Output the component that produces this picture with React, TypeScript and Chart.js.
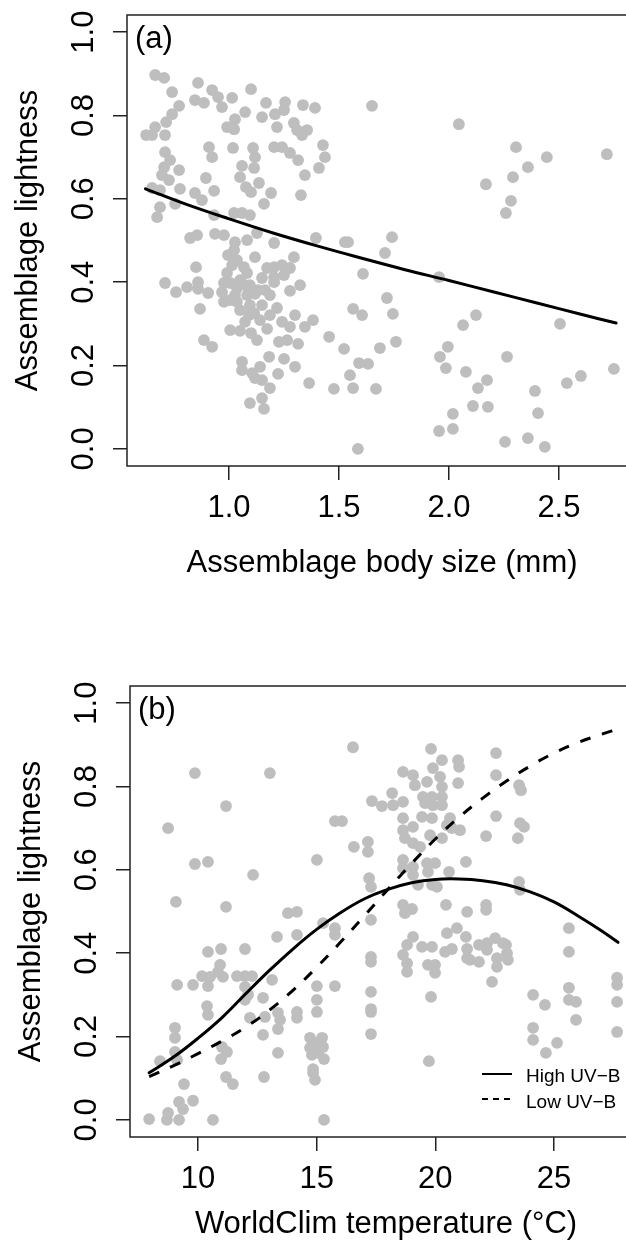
import React, { useEffect, useRef } from "react";
import { Chart, registerables } from "chart.js";

Chart.register(...registerables);

const FONT = '"Liberation Sans", Arial, Helvetica, sans-serif';
const POINT_COLOR = "#bebebe";

// ---------- Panel (a): body size vs lightness ----------
const bodySize = [
  0.664, 0.705, 0.741, 0.859, 0.923, 0.95, 0.968, 1.014, 0.845, 0.886, 1.1, 1.168, 1.255, 1.336, 1.391, 0.773,
  0.741, 0.714, 1.073, 1.027, 0.991, 1.023, 1.15, 1.209, 1.25, 1.218, 1.295, 1.309, 1.355, 1.332, 0.664, 0.623,
  0.65, 0.709, 0.909, 0.923, 1.018, 1.109, 1.118, 1.205, 1.241, 1.277, 1.314, 1.427, 1.436, 1.409, 1.345, 1.327,
  0.709, 0.732, 0.705, 0.773, 0.695, 0.727, 1.059, 1.114, 1.05, 1.077, 1.136, 1.1, 0.895, 1.191, 1.159, 0.65,
  0.686, 0.777, 0.845, 0.932, 0.877, 0.686, 0.755, 0.673, 0.932, 1.023, 1.059, 1.095, 0.823, 0.855, 0.936, 0.977,
  1.027, 1.082, 1.127, 1.205, 1.395, 1.527, 1.023, 1.118, 1.295, 1.036, 1.068, 0.85, 0.991, 1.082, 1.173, 1.205,
  1.241, 1.277, 1.205, 1.25, 1.15, 0.709, 0.759, 0.809, 0.859, 0.859, 0.905, 0.977, 0.968, 1.005, 1.036, 1.205,
  1.323, 1.277, 0.977, 1.005, 1.036, 1.082, 1.118, 0.868, 1.095, 1.15, 1.114, 1.091, 1.218, 1.186, 1.3, 1.241,
  1.277, 1.382, 1.345, 1.005, 1.05, 1.1, 1.127, 1.173, 1.227, 1.264, 1.314, 1.455, 1.523, 0.886, 0.923, 1.182,
  1.25, 1.3, 1.059, 1.059, 1.105, 1.141, 1.118, 1.15, 1.186, 1.223, 1.364, 1.477, 1.095, 1.15, 1.159, 0.995,
  1.014, 1.05, 1.073, 1.027, 1.095, 1.132, 1.164, 1.186, 1.05, 1.141, 1.073, 1.65, 2.045, 2.305, 2.445, 2.718,
  2.359, 2.291, 2.168, 2.282, 2.259, 1.541, 1.741, 1.709, 1.609, 1.955, 1.718, 1.564, 1.605, 1.745, 2.123, 2.064,
  2.505, 1.686, 1.759, 1.55, 1.564, 1.591, 1.632, 1.668, 1.959, 1.995, 1.986, 2.077, 2.132, 2.173, 2.264, 2.109,
  2.177, 2.018, 1.955, 2.018, 1.586, 2.255, 2.359, 2.391, 2.405, 2.436, 2.536, 2.6, 2.75,
];
const lightnessA = [
  0.897, 0.89, 0.856, 0.878, 0.861, 0.844, 0.82, 0.842, 0.837, 0.83, 0.863, 0.83, 0.832, 0.825, 0.818, 0.823,
  0.803, 0.784, 0.808, 0.791, 0.772, 0.767, 0.796, 0.803, 0.813, 0.772, 0.782, 0.765, 0.765, 0.753, 0.772, 0.753,
  0.753, 0.753, 0.724, 0.7, 0.722, 0.722, 0.7, 0.724, 0.724, 0.71, 0.693, 0.729, 0.7, 0.674, 0.657, 0.609,
  0.712, 0.693, 0.676, 0.669, 0.657, 0.645, 0.679, 0.674, 0.652, 0.628, 0.638, 0.616, 0.65, 0.614, 0.588, 0.626,
  0.621, 0.624, 0.614, 0.619, 0.597, 0.58, 0.588, 0.556, 0.561, 0.566, 0.566, 0.561, 0.506, 0.513, 0.516, 0.513,
  0.496, 0.501, 0.518, 0.494, 0.506, 0.496, 0.477, 0.46, 0.46, 0.453, 0.436, 0.436, 0.422, 0.422, 0.434, 0.436,
  0.441, 0.434, 0.412, 0.417, 0.41, 0.398, 0.376, 0.388, 0.4, 0.384, 0.374, 0.398, 0.376, 0.398, 0.386, 0.4,
  0.393, 0.379, 0.353, 0.357, 0.353, 0.369, 0.372, 0.336, 0.345, 0.345, 0.326, 0.321, 0.338, 0.321, 0.321, 0.305,
  0.293, 0.309, 0.293, 0.285, 0.283, 0.278, 0.261, 0.288, 0.257, 0.261, 0.252, 0.269, 0.24, 0.261, 0.245, 0.221,
  0.216, 0.197, 0.209, 0.189, 0.182, 0.197, 0.17, 0.165, 0.146, 0.18, 0.158, 0.144, 0.11, 0.122, 0.096, 0.465,
  0.441, 0.405, 0.393, 0.369, 0.393, 0.381, 0.381, 0.369, 0.333, 0.309, 0.305, 0.823, 0.779, 0.724, 0.7, 0.707,
  0.676, 0.652, 0.635, 0.595, 0.566, 0.496, 0.508, 0.47, 0.42, 0.412, 0.362, 0.336, 0.321, 0.324, 0.321, 0.297,
  0.3, 0.242, 0.257, 0.177, 0.146, 0.206, 0.204, 0.144, 0.221, 0.245, 0.194, 0.185, 0.146, 0.165, 0.221, 0.103,
  0.101, 0.084, 0.043, 0.048, 0.0, 0.017, 0.026, 0.139, 0.086, 0.005, 0.158, 0.175, 0.192,
];
const fitSizeX = [0.62, 0.8, 1.0, 1.2, 1.4, 1.6, 1.8, 2.0, 2.2, 2.4, 2.6, 2.76];
const fitSizeY = [0.624, 0.588, 0.552, 0.518, 0.487, 0.458, 0.43, 0.404, 0.377, 0.35, 0.323, 0.302];
const sizeTicks = [1.0, 1.5, 2.0, 2.5];

// ---------- Panel (b): temperature vs lightness ----------
const tempC = [
  9.87, 13.03, 11.18, 8.74, 9.87, 10.42, 12.32, 9.07, 11.18, 13.79, 14.17, 13.33, 14.17, 10.42, 10.97, 11.98,
  15.27, 15.77, 15.77, 10.93, 10.84, 10.17, 10.51, 11.05, 11.64, 11.98, 12.28, 9.12, 9.79, 10.42, 13.12, 11.98,
  12.11, 11.98, 12.74, 15.01, 15.77, 15.01, 15.01, 10.38, 10.42, 12.19, 12.82, 13.37, 13.46, 13.37, 14.17, 14.17,
  9.03, 9.03, 12.74, 11.01, 11.22, 10.97, 13.37, 14.72, 15.01, 15.23, 14.72, 15.01, 15.27, 15.06, 15.31, 14.8,
  14.85, 14.93, 14.85, 9.03, 9.12, 8.4, 11.18, 11.47, 12.78, 9.41, 9.79, 9.2, 9.37, 8.74, 8.69, 9.2,
  7.94, 10.63, 15.31,
  17.29, 17.29, 17.29, 17.29, 17.29, 17.29, 17.29, 19.73, 18.64, 19.02, 20.45, 21.34, 22.14, 22.14, 19.06, 18.81,
  19.44, 19.86, 18.64, 18.81, 18.81, 19.69, 19.99, 19.99, 20.49, 20.91, 21.29, 20.41, 20.7, 21.34, 21.34, 21.84,
  21.84, 22.18, 22.52, 22.98, 22.6, 22.6, 23.02, 23.06, 22.39, 19.82, 24.12, 24.62, 24.12, 24.12, 24.66, 25.13,
  25.63, 25.63, 25.63, 25.93, 25.93, 27.66, 27.66, 27.66, 27.66, 21.46,
  16.53, 19.82, 22.56, 20.28, 20.96, 21.0, 18.64, 19.06, 19.14, 19.9, 19.65, 20.2, 20.28, 20.96, 22.56, 23.53,
  23.61, 17.33, 17.75, 18.18, 18.22, 18.64, 19.48, 19.86, 20.28, 19.57, 19.9, 20.28, 18.64, 19.44, 19.86, 20.62,
  20.49, 20.7, 21.04, 19.06, 18.64, 22.56, 23.57, 23.74, 23.48, 22.14, 15.77, 16.07, 19.78, 20.28, 18.72, 19.06,
  19.36, 17.16, 17.16, 16.57, 15.01, 18.64, 18.64, 19.06, 19.65, 19.99, 19.69, 20.58, 21.29, 17.21, 17.29, 19.06,
  19.27, 19.86, 20.07, 23.53, 23.57, 18.72, 25.63, 22.18, 22.85,
];
const lightnessB = [
  0.832, 0.832, 0.753, 0.7, 0.614, 0.619, 0.588, 0.523, 0.511, 0.496, 0.499, 0.439, 0.444, 0.403, 0.41, 0.41,
  0.472, 0.46, 0.444, 0.372, 0.355, 0.345, 0.343, 0.343, 0.345, 0.345, 0.345, 0.324, 0.324, 0.321, 0.336, 0.319,
  0.3, 0.288, 0.293, 0.321, 0.321, 0.288, 0.259, 0.273, 0.252, 0.245, 0.247, 0.257, 0.24, 0.218, 0.259, 0.245,
  0.221, 0.197, 0.204, 0.175, 0.163, 0.146, 0.161, 0.197, 0.185, 0.197, 0.173, 0.173, 0.175, 0.161, 0.146, 0.156,
  0.122, 0.096, 0.113, 0.163, 0.144, 0.141, 0.103, 0.086, 0.103, 0.086, 0.046, 0.043, 0.026, 0.017, 0.0, 0.0,
  0.002, 0.0, 0.0,
  0.48, 0.391, 0.379, 0.307, 0.266, 0.259, 0.206, 0.141, 0.516, 0.506, 0.516, 0.499, 0.516, 0.504, 0.439, 0.42,
  0.415, 0.415, 0.396, 0.376, 0.355, 0.372, 0.372, 0.353, 0.448, 0.46, 0.439, 0.403, 0.41, 0.41, 0.388, 0.42,
  0.379, 0.408, 0.436, 0.42, 0.388, 0.367, 0.4, 0.384, 0.331, 0.295, 0.3, 0.276, 0.221, 0.192, 0.161, 0.185,
  0.403, 0.317, 0.288, 0.283, 0.24, 0.341, 0.324, 0.283, 0.211, 0.384,
  0.894, 0.89, 0.88, 0.863, 0.863, 0.847, 0.835, 0.827, 0.803, 0.844, 0.811, 0.823, 0.799, 0.808, 0.827, 0.803,
  0.791, 0.765, 0.753, 0.784, 0.755, 0.763, 0.775, 0.775, 0.775, 0.76, 0.755, 0.755, 0.724, 0.727, 0.724, 0.724,
  0.707, 0.7, 0.695, 0.703, 0.695, 0.729, 0.712, 0.703, 0.676, 0.681, 0.717, 0.717, 0.683, 0.676, 0.676, 0.664,
  0.655, 0.667, 0.643, 0.655, 0.624, 0.624, 0.604, 0.607, 0.616, 0.616, 0.595, 0.595, 0.619, 0.58, 0.559, 0.588,
  0.564, 0.564, 0.559, 0.571, 0.552, 0.496, 0.46, 0.424, 0.424,
];
const curveTempX = [7.94, 9, 10, 11, 12, 13, 14, 15, 16, 17, 18, 19, 20, 21, 22, 23, 24, 25, 26, 27, 27.7];
const highUVY = [
  0.113, 0.152, 0.196, 0.245, 0.302, 0.358, 0.41, 0.457, 0.497, 0.53, 0.553, 0.569, 0.577, 0.578, 0.574, 0.564,
  0.547, 0.523, 0.49, 0.454, 0.426,
];
const lowUVY = [
  0.104, 0.131, 0.159, 0.189, 0.222, 0.263, 0.311, 0.366, 0.426, 0.489, 0.553, 0.615, 0.674, 0.726, 0.772, 0.813,
  0.849, 0.88, 0.905, 0.925, 0.938,
];
const tempTicks = [10, 15, 20, 25];

const lightTicks = [0.0, 0.2, 0.4, 0.6, 0.8, 1.0];
const legendLabels = ["High UV\u2212B", "Low UV\u2212B"];

type Pt = { x: number; y: number };
const zip = (xs: number[], ys: number[]): Pt[] => xs.map((x, i) => ({ x, y: ys[i] }));

interface Curve {
  data: Pt[];
  dash: number[];
}
interface PanelSpec {
  width: number;
  height: number;
  top: number;
  padTop: number;
  padRight: number;
  yAxisWidth: number;
  xAxisHeight: number;
  xMin: number;
  xMax: number;
  xTicks: number[];
  xDecimals: number;
  tag: string;
  xTitle: string;
  yTitle: string;
  xTitleOffset: number;
  scatter: Pt[];
  curves: Curve[];
  legend: boolean;
}

function Panel({ spec }: { spec: PanelSpec }) {
  const ref = useRef<HTMLCanvasElement | null>(null);
  useEffect(() => {
    if (!ref.current) return;
    const s = spec;
    const decorate = {
      id: "decorate",
      afterDraw(chart: any) {
        const { ctx, chartArea: ca, scales } = chart;
        const xs = scales.x;
        const ys = scales.y;
        ctx.save();
        ctx.strokeStyle = "#222";
        ctx.lineWidth = 1.5;
        ctx.strokeRect(ca.left, ca.top, ca.right - ca.left, ca.bottom - ca.top);
        ctx.fillStyle = "#000";
        ctx.font = `31px ${FONT}`;
        ctx.textAlign = "center";
        ctx.textBaseline = "alphabetic";
        s.xTicks.forEach((v) => {
          ctx.fillText(v.toFixed(s.xDecimals), xs.getPixelForValue(v), ca.bottom + 51);
        });
        lightTicks.forEach((v) => {
          ctx.save();
          ctx.translate(ca.left - 34, ys.getPixelForValue(v));
          ctx.rotate(-Math.PI / 2);
          ctx.fillText(v.toFixed(1), 0, 0);
          ctx.restore();
        });
        ctx.fillText(s.xTitle, (ca.left + ca.right) / 2, ca.bottom + s.xTitleOffset);
        ctx.save();
        ctx.translate(ca.left - 90, (ca.top + ca.bottom) / 2);
        ctx.rotate(-Math.PI / 2);
        ctx.fillText(s.yTitle, 0, 0);
        ctx.restore();
        ctx.textAlign = "left";
        ctx.fillText(s.tag, ca.left + 8, ca.top + 33);
        if (s.legend) {
          ctx.font = `19px ${FONT}`;
          ctx.strokeStyle = "#000";
          ctx.lineWidth = 2;
          const lx1 = ca.right - 160;
          const lx2 = ca.right - 130;
          const rows = [
            { y: ca.bottom - 63, ty: ca.bottom - 55, dash: [] as number[] },
            { y: ca.bottom - 38, ty: ca.bottom - 29, dash: [6, 5] },
          ];
          rows.forEach((r, i) => {
            ctx.setLineDash(r.dash);
            ctx.beginPath();
            ctx.moveTo(lx1, r.y);
            ctx.lineTo(lx2, r.y);
            ctx.stroke();
            ctx.fillText(legendLabels[i], ca.right - 116, r.ty);
          });
          ctx.setLineDash([]);
        }
        ctx.restore();
      },
    };

    const datasets: any[] = s.curves.map((c) => ({
      data: c.data,
      showLine: true,
      borderColor: "#000",
      borderWidth: 3,
      borderDash: c.dash,
      borderCapStyle: c.dash.length ? "butt" : "round",
      borderJoinStyle: "round",
      pointRadius: 0,
      tension: 0.4,
      fill: false,
    }));
    datasets.push({
      data: s.scatter,
      showLine: false,
      pointRadius: 5.9,
      pointBackgroundColor: POINT_COLOR,
      pointBorderWidth: 0,
      pointBorderColor: POINT_COLOR,
    });

    const axisGrid = {
      display: true,
      drawOnChartArea: false,
      drawTicks: true,
      tickLength: 14,
      color: "#222",
      lineWidth: 1.5,
    };

    const chart = new Chart(ref.current, {
      type: "scatter",
      data: { datasets },
      plugins: [decorate],
      options: {
        animation: false,
        responsive: false,
        devicePixelRatio: 1,
        events: [],
        layout: {
          autoPadding: false,
          padding: { top: s.padTop, right: s.padRight, left: 0, bottom: 0 },
        },
        plugins: { legend: { display: false }, tooltip: { enabled: false }, title: { display: false } },
        scales: {
          x: {
            type: "linear",
            min: s.xMin,
            max: s.xMax,
            afterBuildTicks: (sc: any) => {
              sc.ticks = s.xTicks.map((v) => ({ value: v }));
            },
            afterFit: (sc: any) => {
              sc.height = s.xAxisHeight;
            },
            ticks: { display: false },
            grid: axisGrid,
            border: { display: false },
          },
          y: {
            type: "linear",
            min: -0.041,
            max: 1.041,
            afterBuildTicks: (sc: any) => {
              sc.ticks = lightTicks.map((v) => ({ value: v }));
            },
            afterFit: (sc: any) => {
              sc.width = s.yAxisWidth;
            },
            ticks: { display: false },
            grid: axisGrid,
            border: { display: false },
          },
        },
      } as any,
    });
    return () => chart.destroy();
  }, [spec]);

  return (
    <canvas
      ref={ref}
      width={spec.width}
      height={spec.height}
      style={{ position: "absolute", left: 0, top: spec.top, width: spec.width, height: spec.height }}
    />
  );
}

const panelA: PanelSpec = {
  width: 660,
  height: 640,
  top: 0,
  padTop: 15,
  padRight: 23,
  yAxisWidth: 127,
  xAxisHeight: 174,
  xMin: 0.536,
  xMax: 2.855,
  xTicks: sizeTicks,
  xDecimals: 1,
  tag: "(a)",
  xTitle: "Assemblage body size (mm)",
  yTitle: "Assemblage lightness",
  xTitleOffset: 106,
  scatter: zip(bodySize, lightnessA),
  curves: [{ data: zip(fitSizeX, fitSizeY), dash: [] }],
  legend: false,
};

const panelB: PanelSpec = {
  width: 660,
  height: 605,
  top: 640,
  padTop: 46,
  padRight: 18,
  yAxisWidth: 130,
  xAxisHeight: 108,
  xMin: 7.134,
  xMax: 28.71,
  xTicks: tempTicks,
  xDecimals: 0,
  tag: "(b)",
  xTitle: "WorldClim temperature (\u00B0C)",
  yTitle: "Assemblage lightness",
  xTitleOffset: 96,
  scatter: zip(tempC, lightnessB),
  curves: [
    { data: zip(curveTempX, highUVY), dash: [] },
    { data: zip(curveTempX, lowUVY), dash: [11, 12] },
  ],
  legend: true,
};

export default function App() {
  return (
    <div
      style={{
        position: "fixed",
        left: 0,
        top: 0,
        width: 626,
        height: 1245,
        overflow: "hidden",
        background: "#fff",
      }}
    >
      <Panel spec={panelA} />
      <Panel spec={panelB} />
    </div>
  );
}
